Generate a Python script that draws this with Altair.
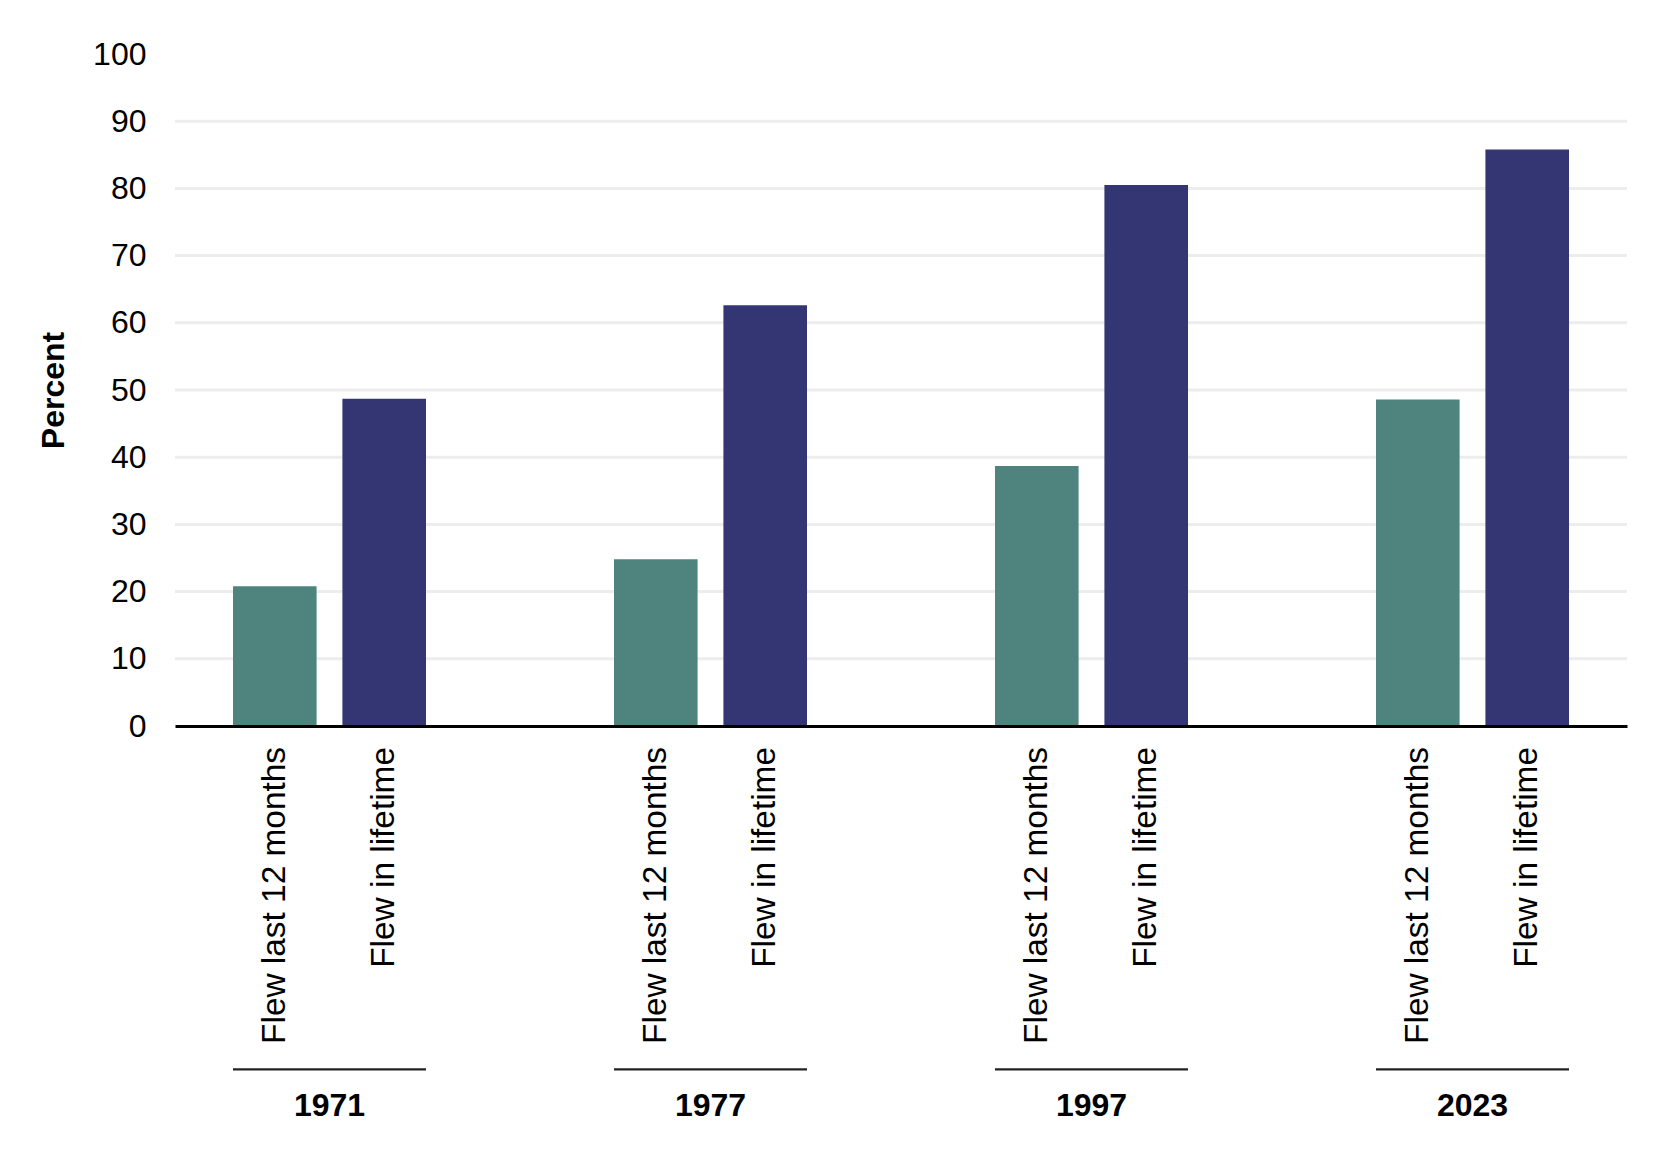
import altair as alt
import pandas as pd

# ---- data ----
YEARS = ["1971", "1977", "1997", "2023"]
SERIES = ["Flew last 12 months", "Flew in lifetime"]
FLEW_LAST_12 = [20.8, 24.8, 38.7, 48.6]
FLEW_LIFETIME = [48.7, 62.6, 80.5, 85.8]
Y_TICKS = [0, 10, 20, 30, 40, 50, 60, 70, 80, 90, 100]
GRID_VALUES = [10, 20, 30, 40, 50, 60, 70, 80, 90]
COLORS = ["#4E847D", "#343573"]

FONT = "Liberation Sans"
W, H = 1452, 672

rows = []
for i, yr in enumerate(YEARS):
    rows.append({"year": yr, "series": SERIES[0], "value": FLEW_LAST_12[i]})
    rows.append({"year": yr, "series": SERIES[1], "value": FLEW_LIFETIME[i]})
df = pd.DataFrame(rows)
years_df = pd.DataFrame({"year": YEARS})
grid_df = pd.DataFrame({"g": GRID_VALUES})

x_scale = alt.Scale(domain=YEARS, paddingInner=0.4934, paddingOuter=0.1522)
x_enc = alt.X(
    "year:N",
    scale=x_scale,
    sort=YEARS,
    axis=alt.Axis(
        title=None,
        labelAngle=0,
        labelFont=FONT,
        labelFontSize=32,
        labelFontWeight="bold",
        labelColor="#000000",
        labelPadding=364,
        ticks=False,
        tickSize=0,
        domain=True,
        domainColor="#000000",
        domainWidth=3,
        grid=False,
        zindex=2,
    ),
)
y_scale = alt.Scale(domain=[0, 100], nice=False)

grid = alt.Chart(grid_df).mark_rule(color="#EEEDED", strokeWidth=3).encode(
    y=alt.Y("g:Q", scale=y_scale,
            axis=alt.Axis(
                title="Percent",
                values=Y_TICKS,
                grid=False,
                domain=False,
                ticks=False,
                tickSize=0,
                labelFont=FONT,
                labelFontSize=32,
                labelColor="#000000",
                labelPadding=29,
                titleFont=FONT,
                titleFontSize=32,
                titleFontWeight="bold",
                titleColor="#000000",
                titlePadding=22,
            )),
)

bars = alt.Chart(df).mark_bar().encode(
    x=x_enc,
    xOffset=alt.XOffset("series:N", sort=SERIES,
                        scale=alt.Scale(domain=SERIES, paddingInner=0.236, paddingOuter=0)),
    y=alt.Y("value:Q", scale=y_scale),
    color=alt.Color("series:N", scale=alt.Scale(domain=SERIES, range=COLORS), legend=None),
)

series_labels = alt.Chart(df).mark_text(
    angle=270, align="right", baseline="middle", font=FONT, fontSize=33.4, color="#000000"
).encode(
    x=alt.X("year:N", sort=YEARS),
    xOffset=alt.XOffset("series:N", sort=SERIES),
    y=alt.value(H + 21),
    text="series:N",
)

underline = alt.Chart(years_df).mark_bar(color="#222222").encode(
    x=alt.X("year:N", sort=YEARS),
    y=alt.value(H + 342.3),
    y2=alt.value(H + 344.5),
)

chart = (
    alt.layer(grid, bars, series_labels, underline)
    .properties(
        width=W,
        height=H,
        autosize=alt.AutoSizeParams(type="none"),
        padding={"left": 167, "top": 46, "right": 30, "bottom": 400},
        background="white",
    )
    .configure_view(strokeWidth=0, stroke="transparent")
)

chart.save("out.html", embed_options={"renderer": "svg", "actions": False})
